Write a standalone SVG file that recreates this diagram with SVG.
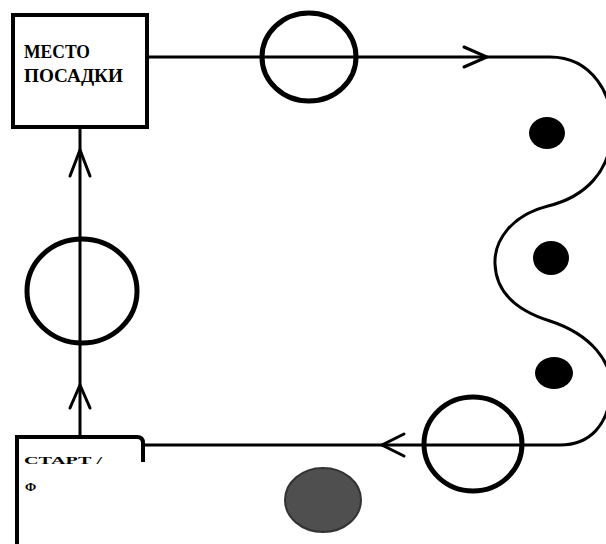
<svg xmlns="http://www.w3.org/2000/svg" width="606" height="544" viewBox="0 0 606 544">
  <style>
    .box { fill: #fff; stroke: #000; stroke-width: 4; }
    .line { fill: none; stroke: #000; stroke-width: 3; stroke-linecap: round; stroke-linejoin: round; }
    .head { fill: none; stroke: #000; stroke-width: 3; stroke-linecap: round; stroke-linejoin: miter; }
    .ring { fill: none; stroke: #000; stroke-width: 5; }
    .dot { fill: #000; }
    .label { font-family: "Liberation Serif", "DejaVu Serif", serif; font-weight: bold; fill: #000; }
  </style>
  <rect width="606" height="544" fill="#fff"/>

  <g id="connectors">
    <!-- route: boarding point -> serpentine -> start/finish -> back up -->
    <path class="line" d="M147,57 L550,57 C592,57 614,95 612,132 C610,172 585,197 548,206 C512,215 494,240 495,264 C496,292 515,310 550,321 C590,334 614,362 611,392 C608,425 590,445 560,445 L145,445"/>
    <path class="line" d="M80,127 L80,437"/>
    <!-- direction chevrons -->
    <path class="head" d="M464,47 L487,57 L464,67"/>
    <path class="head" d="M404,434 L382,445 L404,456"/>
    <path class="head" d="M70,176 L80,150 L90,176"/>
    <path class="head" d="M70,408 L80,385 L90,408"/>
  </g>

  <g id="node-boarding">
    <rect class="box" x="13" y="15" width="134" height="112"/>
    <text class="label" x="24" y="58" font-size="19" textLength="66" lengthAdjust="spacingAndGlyphs">МЕСТО</text>
    <text class="label" x="24" y="82" font-size="19" textLength="99" lengthAdjust="spacingAndGlyphs">ПОСАДКИ</text>
  </g>

  <g id="node-start">
    <path class="box" d="M17,546 L17,437 L137,437 Q143,437 143,443 L143,462" fill="none"/>
    <text class="label" x="24" y="464" font-size="11" textLength="78" lengthAdjust="spacingAndGlyphs">СТАРТ /</text>
    <text class="label" x="25" y="491" font-size="13">Ф</text>
  </g>

  <g id="ring-top"><ellipse class="ring" cx="309" cy="57" rx="47" ry="44"/></g>
  <g id="ring-left"><ellipse class="ring" cx="82" cy="291" rx="55" ry="52"/></g>
  <g id="ring-bottom"><ellipse class="ring" cx="473" cy="444" rx="49" ry="47"/></g>

  <g id="marker-1"><ellipse class="dot" cx="547" cy="133" rx="18" ry="16"/></g>
  <g id="marker-2"><ellipse class="dot" cx="551" cy="258" rx="18" ry="17"/></g>
  <g id="marker-3"><ellipse class="dot" cx="554" cy="373" rx="19" ry="16"/></g>

  <g id="spot"><ellipse cx="323" cy="500" rx="38" ry="32" fill="#4f4f4f" stroke="#333" stroke-width="2"/></g>
</svg>
